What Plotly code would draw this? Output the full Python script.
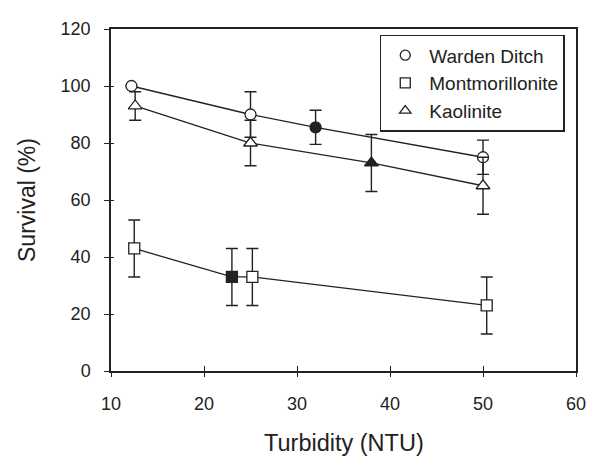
import plotly.graph_objects as go

# ---- data ----
wd_x = [12.2, 25.0, 32.0, 50.0]
wd_y = [100, 90, 85.5, 75]
wd_err = [0, 8, 6, 6]
wd_filled = [False, False, True, False]

mm_x = [12.5, 23.0, 25.2, 50.4]
mm_y = [43, 33, 33, 23]
mm_err = [10, 10, 10, 10]
mm_filled = [False, True, False, False]

ka_x = [12.6, 25.0, 38.0, 50.0]
ka_y = [93, 80, 73, 65]
ka_err = [5, 8, 10, 10]
ka_filled = [False, False, True, False]

series_names = ["Warden Ditch", "Montmorillonite", "Kaolinite"]
x_ticks = [10, 20, 30, 40, 50, 60]
y_ticks = [0, 20, 40, 60, 80, 100, 120]

INK = "#222222"
FONT = "Liberation Sans, Arial, sans-serif"

fig = go.Figure()

series = [
    (series_names[0], wd_x, wd_y, wd_err, wd_filled, "circle", 11),
    (series_names[1], mm_x, mm_y, mm_err, mm_filled, "square", 11),
    (series_names[2], ka_x, ka_y, ka_err, ka_filled, "triangle-up", 12),
]

for name, xs, ys, errs, filled, sym, size in series:
    fig.add_trace(go.Scatter(
        x=xs, y=ys, mode="lines+markers", showlegend=False, name=name,
        line=dict(color=INK, width=1.3),
        marker=dict(symbol=sym, size=size,
                    color=[INK if f else "white" for f in filled],
                    line=dict(color=INK, width=1.3)),
        error_y=dict(type="data", array=errs, visible=True,
                     color=INK, thickness=1.4, width=6),
    ))

for name, xs, ys, errs, filled, sym, size in series:
    fig.add_trace(go.Scatter(
        x=[None], y=[None], mode="markers", name=name, showlegend=True,
        marker=dict(symbol=sym, size=10, color="white",
                    line=dict(color=INK, width=1.3)),
    ))

# invisible trace for the overlaid (inside-tick) axes
fig.add_trace(go.Scatter(x=[None], y=[None], xaxis="x2", yaxis="y2",
                         showlegend=False, hoverinfo="skip"))

axis_common = dict(showgrid=False, zeroline=False, linecolor=INK,
                   linewidth=1.5, tickcolor=INK, tickwidth=1.4,
                   tickfont=dict(family=FONT, size=18, color=INK))

# page body has an 8px default margin, so the figure is sized/offset for it
fig.update_layout(
    width=589, height=452,
    margin=dict(l=103, r=11, t=11, b=89),
    paper_bgcolor="white", plot_bgcolor="white",
    font=dict(family=FONT, color=INK),
    xaxis=dict(range=[10, 60], tickvals=x_ticks, ticks="outside", ticklen=4,
               showline=True, mirror=True, ticklabelstandoff=12, **axis_common),
    yaxis=dict(range=[0, 120], tickvals=y_ticks, ticks="outside", ticklen=5,
               showline=True, mirror=True, ticklabelstandoff=10, **axis_common),
    xaxis2=dict(range=[10, 60], tickvals=x_ticks, ticks="inside", ticklen=5,
                overlaying="x", showticklabels=False, showline=False,
                showgrid=False, zeroline=False, tickcolor=INK, tickwidth=1.4),
    yaxis2=dict(range=[0, 120], tickvals=y_ticks, ticks="inside", ticklen=3,
                overlaying="y", showticklabels=False, showline=False,
                showgrid=False, zeroline=False, tickcolor=INK, tickwidth=1.4),
    legend=dict(x=0.578, y=0.983, xanchor="left", yanchor="top",
                bordercolor=INK, borderwidth=1.5, bgcolor="white",
                font=dict(family=FONT, size=19, color=INK),
                tracegroupgap=0, itemwidth=38),
    annotations=[
        dict(text="Turbidity (NTU)", x=0.5, y=0, xref="paper", yref="paper",
             xanchor="center", yanchor="middle", yshift=-72, showarrow=False,
             font=dict(family=FONT, size=23.5, color=INK)),
        dict(text="Survival (%)", x=0, y=0.5, xref="paper", yref="paper",
             xanchor="center", yanchor="middle", xshift=-84, textangle=-90,
             showarrow=False, font=dict(family=FONT, size=23, color=INK)),
    ],
)

fig.write_html("out.html")
